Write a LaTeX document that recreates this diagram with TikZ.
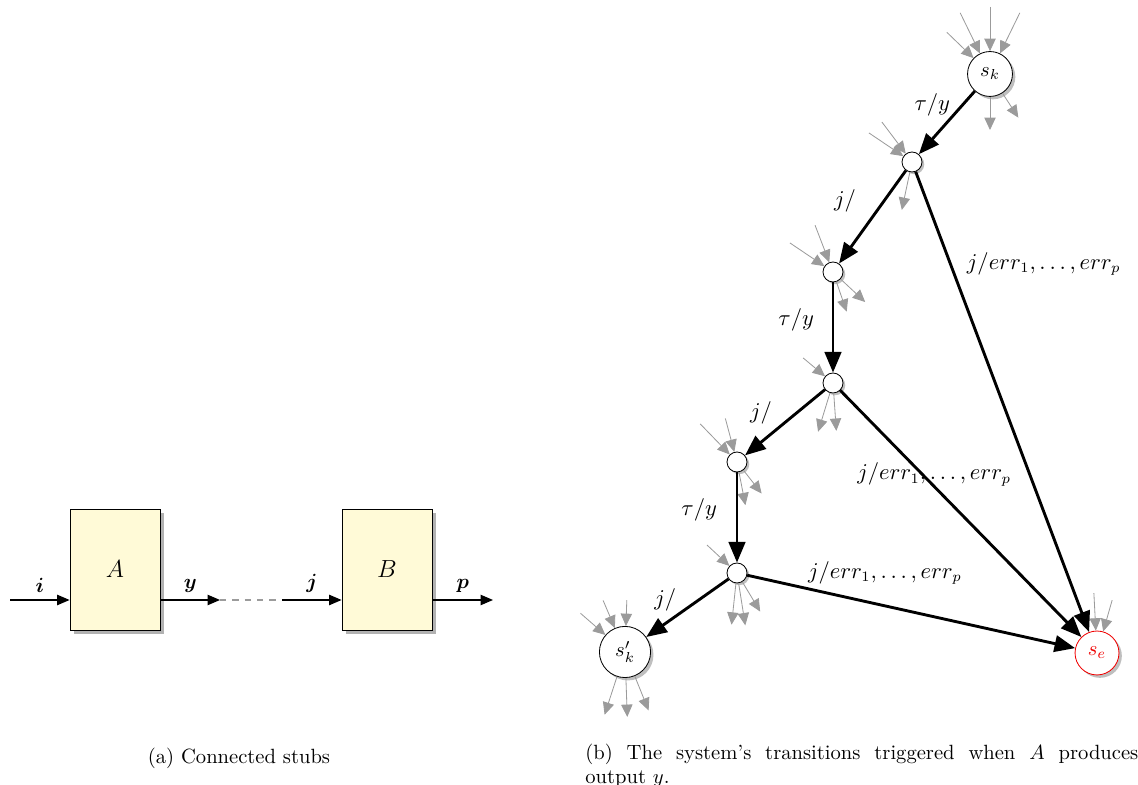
\documentclass[tikz,border=0pt]{standalone}
\usepackage{amsmath}
\usepackage{bm}
\definecolor{stubFill}{RGB}{255, 250, 215}
\definecolor{stubGray}{RGB}{155, 155, 155}
\definecolor{errRed}{RGB}{240, 0, 0}
\usetikzlibrary{arrows.meta, shadows, calc}
\tikzset{
  stubbox/.style={rectangle, draw, fill=stubFill, minimum width=43.7pt, minimum height=58.7pt, font=\large, drop shadow={shadow xshift=2pt, shadow yshift=-2pt, fill=black!30, opacity=1}},
  state/.style={circle, draw, fill=white, inner sep=3.8pt, drop shadow={shadow xshift=1.4pt, shadow yshift=-1.4pt, fill=black!25, opacity=1}},
  errstate/.style={state, draw=errRed, text=errRed},
  junction/.style={circle, draw, fill=white, inner sep=0pt, minimum size=9.7pt, drop shadow={shadow xshift=1.1pt, shadow yshift=-1.1pt, fill=black!25, opacity=1}},
  flow/.style={-{Triangle[length=6pt, width=5pt]}, semithick},
  link/.style={dashed, dash pattern=on 3pt off 3pt, stubGray, semithick},
  trans/.style={-{Triangle[length=10pt, width=8pt]}, line width=1.4pt},
  stub/.style={-{Triangle[length=6pt, width=5.5pt]}, stubGray, thin},
  lbl/.style={font=\fontsize{10.5}{12}\selectfont},
  capnode/.style={inner sep=0pt, font=\fontsize{10}{11.6}\selectfont},
}
\begin{document}
\begin{tikzpicture}[x=0.4854pt, y=0.4854pt]
  \useasboundingbox (0,0) rectangle (1138,785);

  % (a) the two stubs
  \node[stubbox] (A) at (115, 215.5) {$A$};
  \node[stubbox] (B) at (387, 215.5) {$B$};
  \coordinate (iIn) at (10, 185);
  \coordinate (yOut) at (220, 185);
  \coordinate (jIn) at (282, 185);
  \coordinate (pOut) at (493, 185);
  \draw[flow] (iIn) -- (iIn -| A.west) node[midway, above] {$\bm{i}$};
  \draw[flow] (A.east |- yOut) -- (yOut) node[midway, above] {$\bm{y}$};
  \draw[link] (yOut) -- (jIn);
  \draw[flow] (jIn) -- (jIn -| B.west) node[midway, above] {$\bm{j}$};
  \draw[flow] (B.east |- pOut) -- (pOut) node[midway, above] {$\bm{p}$};

  % (b) transitions
  \node[state] (sk) at (990, 711) {$s_k$};
  \node[junction] (n1) at (912, 623) {};
  \node[junction] (n2) at (833, 513) {};
  \node[junction] (n3) at (833, 402) {};
  \node[junction] (n4) at (737, 323) {};
  \node[junction] (n5) at (737, 212) {};
  \node[state] (skp) at (625, 133) {$s'_k$};
  \node[errstate] (se) at (1097, 132) {$s_e$};

  % grey stubs
  \foreach \a/\l in {136/60, 116/68, 90/67, 64/68}
    \draw[stub] ($(sk)+(\a:\l)$) -- (sk);
  \foreach \a/\l in {-90/56, -57/52}
    \draw[stub] (sk) -- ($(sk)+(\a:\l)$);
  \foreach \a/\l in {146/52, 127/50}
    \draw[stub] ($(n1)+(\a:\l)$) -- (n1);
  \draw[stub] (n1) -- ($(n1)+(-102:49)$);
  \foreach \a/\l in {146/52, 111/50}
    \draw[stub] ($(n2)+(\a:\l)$) -- (n2);
  \foreach \a/\l in {-71/42, -43/44}
    \draw[stub] (n2) -- ($(n2)+(\a:\l)$);
  \draw[stub] ($(n3)+(140:39)$) -- (n3);
  \foreach \a/\l in {-107/51, -86/48}
    \draw[stub] (n3) -- ($(n3)+(\a:\l)$);
  \foreach \a/\l in {134/53, 105/45}
    \draw[stub] ($(n4)+(\a:\l)$) -- (n4);
  \foreach \a/\l in {-79/44, -52/40}
    \draw[stub] (n4) -- ($(n4)+(\a:\l)$);
  \draw[stub] ($(n5)+(137:41)$) -- (n5);
  \foreach \a/\l in {-96/52, -81/53, -59/45}
    \draw[stub] (n5) -- ($(n5)+(\a:\l)$);
  \foreach \a/\l in {139/59, 113/56, 88/52}
    \draw[stub] ($(skp)+(\a:\l)$) -- (skp);
  \foreach \a/\l in {-108/66, -88/65, -68/63}
    \draw[stub] (skp) -- ($(skp)+(\a:\l)$);
  \foreach \a/\l in {93/60, 74/55}
    \draw[stub] ($(se)+(\a:\l)$) -- (se);

  % black transitions
  \draw[trans] (sk) -- (n1) node[lbl, pos=.22, left=2pt] {$\tau/y$};
  \draw[trans] (n1) -- (n2) node[lbl, pos=.33, left=9.5pt] {$j/$};
  \draw[trans] (n1) -- (se) node[lbl, pos=.2, right=4pt] {$j/err_1,\ldots,err_p$};
  \draw[trans] (n2) -- (n3) node[lbl, pos=.41, left=5.2pt] {$\tau/y$};
  \draw[trans] (n3) -- (n4) node[lbl, pos=.36, left=7.7pt] {$j/$};
  \draw[trans] (n3) -- (se) node[lbl, pos=.34, xshift=5.8pt] {$j/err_1,\ldots,err_p$};
  \draw[trans] (n4) -- (n5) node[lbl, pos=.41, left=5.7pt] {$\tau/y$};
  \draw[trans] (n5) -- (skp) node[lbl, pos=.36, left=7pt] {$j/$};
  \draw[trans] (n5) -- (se) node[lbl, pos=.42, yshift=16pt] {$j/err_1,\ldots,err_p$};

  % captions
  \node[capnode] (capA) at (239, 27) {(a) Connected stubs};
  \node[capnode, anchor=north west, text width=268.4pt, align=justify] (capB) at (585, 41) {(b) The system's transitions triggered when $A$ produces\linebreak output $y$.};
\end{tikzpicture}
\end{document}
